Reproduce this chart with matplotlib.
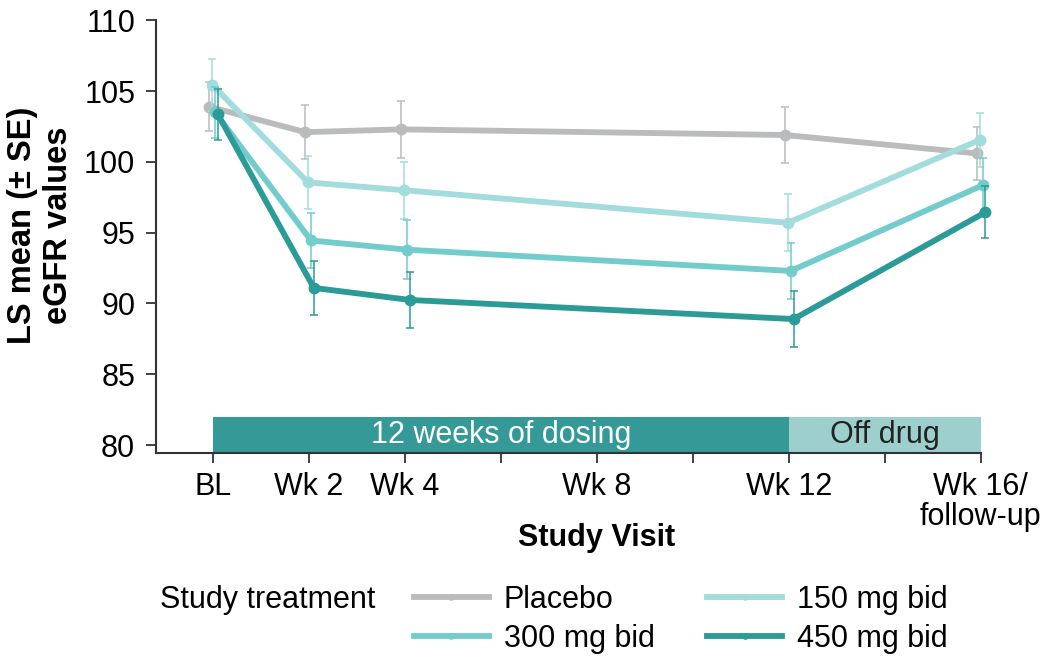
import numpy as np
import matplotlib
matplotlib.use('Agg')
import matplotlib.pyplot as plt
from matplotlib.transforms import blended_transform_factory

plt.rcParams['font.family'] = ['Liberation Sans', 'DejaVu Sans']

# data
weeks = [0, 2, 4, 12, 16]
tick_weeks = [0, 2, 4, 6, 8, 10, 12, 14, 16]
tick_labels = ['BL', 'Wk 2', 'Wk 4', '', 'Wk 8', '', 'Wk 12', '', 'Wk 16/\nfollow-up']

series_names = ['Placebo', '150 mg bid', '300 mg bid', '450 mg bid']
placebo = [103.9, 102.1, 102.3, 101.9, 100.6]
placebo_se = [1.75, 1.9, 2.0, 2.0, 1.9]
mg150 = [105.45, 98.55, 98.0, 95.7, 101.55]
mg150_se = [1.85, 1.85, 2.0, 2.0, 1.9]
mg300 = [103.5, 94.45, 93.8, 92.3, 98.35]
mg300_se = [1.8, 1.95, 2.1, 2.0, 1.9]
mg450 = [103.35, 91.1, 90.25, 88.9, 96.45]
mg450_se = [1.8, 1.9, 1.95, 1.95, 1.85]

values = [placebo, mg150, mg300, mg450]
errors = [placebo_se, mg150_se, mg300_se, mg450_se]
offsets = [-0.08, -0.02, 0.04, 0.1]
colors = ['#b9bbbd', '#a2dcdc', '#72cccb', '#2a9b96']

# phases shown in the bar at the bottom
phase_start = [0, 12]
phase_end = [12, 16]
phase_text = ['12 weeks of dosing', 'Off drug']
phase_color = ['#359a97', '#9dcfcd']
phase_text_color = ['white', '#222222']

xmin, xmax = -1.19, 16
ymin, ymax = 79.44, 110.05
fs = 22

fig = plt.figure(figsize=(10.5, 6.65), dpi=100)
ax = fig.add_axes([0.1486, 0.3188, 0.934 - 0.1486, 0.9705 - 0.3188])

lines = []
for i in range(4):
    x = np.array(weeks) + offsets[i]
    eb = ax.errorbar(x, values[i], yerr=errors[i], fmt='none', ecolor=colors[i],
                     elinewidth=1.1, capsize=3, capthick=1.1, zorder=2 + i)
    for art in eb.lines[1] + eb.lines[2]:
        art.set_clip_on(False)
    l, = ax.plot(x, values[i], color=colors[i], linewidth=4.2, marker='o',
                 markersize=7.5, zorder=3 + i, label=series_names[i], clip_on=False)
    lines.append(l)

for i in range(2):
    ax.fill_between([phase_start[i], phase_end[i]], ymin, 82.0,
                    color=phase_color[i], linewidth=0, zorder=1)
    ax.text((phase_start[i] + phase_end[i]) / 2, 80.68, phase_text[i],
            color=phase_text_color[i], fontsize=fs, ha='center', va='center', zorder=2)

ax.set_xlim(xmin, xmax)
ax.set_ylim(ymin, ymax)
ax.set_yticks([80, 85, 90, 95, 100, 105, 110])
ax.set_xticks(tick_weeks)
ax.set_xticklabels(tick_labels, fontsize=fs, linespacing=1.0)
ax.tick_params(axis='y', labelsize=fs, length=7, width=1.3, color='#333333', pad=8)
ax.tick_params(axis='x', length=7, width=1.3, color='#333333', pad=7)
for s in ['top', 'right']:
    ax.spines[s].set_visible(False)
for s in ['left', 'bottom']:
    ax.spines[s].set_linewidth(1.5)
    ax.spines[s].set_color('#333333')

ax.set_ylabel('LS mean (\u00b1 SE)\neGFR values', fontsize=23.5, fontweight='bold',
              linespacing=1.2)
ax.yaxis.set_label_coords(-0.1, 0.525)
trans = blended_transform_factory(ax.transData, ax.transAxes)
ax.text(8, -0.195, 'Study Visit', transform=trans, fontsize=fs, fontweight='bold',
        ha='center', va='center')

fig.text(0.152, 0.097, 'Study treatment', fontsize=fs, ha='left', va='center')
leg_handles = [lines[0], lines[2], lines[1], lines[3]]
leg_labels = [series_names[0], series_names[2], series_names[1], series_names[3]]
leg = fig.legend(leg_handles, leg_labels, ncol=2, frameon=False, fontsize=fs,
                 loc='center left', bbox_to_anchor=(0.394, 0.069),
                 handlelength=2.45, handletextpad=0.49, columnspacing=1.73,
                 labelspacing=0.3, markerscale=0.5, borderaxespad=0, borderpad=0)

plt.savefig('out.png', dpi=100)
